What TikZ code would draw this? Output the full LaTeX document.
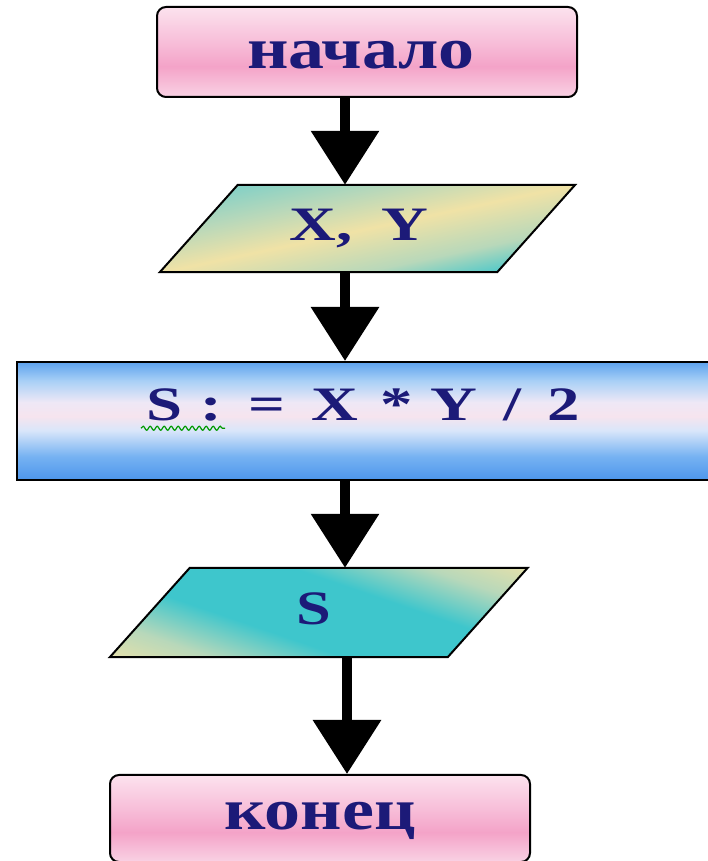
\documentclass[tikz,border=0pt]{standalone}
\usepackage{fontspec}
\setmainfont{Liberation Serif}
\usetikzlibrary{arrows.meta,backgrounds,decorations.pathmorphing}
\definecolor{txt}{HTML}{1C1A78}
\definecolor{pkA}{HTML}{F9D2E4}
\definecolor{pkB}{HTML}{F4A3C8}
\definecolor{pkC}{HTML}{F7BDD8}
\definecolor{pkD}{HTML}{FCE2EE}
\definecolor{blA}{HTML}{4D96EC}
\definecolor{blB}{HTML}{76B2F2}
\definecolor{blC}{HTML}{D9E6FA}
\definecolor{blD}{HTML}{F6E4EE}
\definecolor{blE}{HTML}{EEE8F6}
\definecolor{blF}{HTML}{A9D0F6}
\definecolor{blG}{HTML}{5DA2EE}
\definecolor{tlA}{HTML}{3EC6CC}
\definecolor{tlB}{HTML}{B8D8BA}
\definecolor{tlC}{HTML}{7ACFC8}
\definecolor{ylA}{HTML}{F0E2A6}
\pgfdeclareverticalshading{pinkshade}{100bp}{color(0bp)=(pkA); color(25bp)=(pkA); color(42bp)=(pkB); color(55bp)=(pkC); color(75bp)=(pkD); color(100bp)=(pkD)}
\pgfdeclareverticalshading{blueshade}{100bp}{color(0bp)=(blA); color(25bp)=(blA); color(35bp)=(blB); color(46bp)=(blC); color(52bp)=(blD); color(58bp)=(blE); color(67bp)=(blF); color(75bp)=(blG); color(100bp)=(blG)}
\pgfdeclareverticalshading{xyfill}{100bp}{color(0bp)=(tlA); color(25bp)=(tlA); color(36bp)=(tlB); color(50bp)=(ylA); color(62bp)=(tlB); color(75bp)=(tlC); color(100bp)=(tlC)}
\pgfdeclareverticalshading{sfill}{100bp}{color(0bp)=(ylA); color(25bp)=(ylA); color(34bp)=(tlB); color(43bp)=(tlA); color(57bp)=(tlA); color(66bp)=(tlB); color(75bp)=(ylA); color(100bp)=(ylA)}
\tikzset{
  termbox/.style={draw=black, line width=2pt, rounded corners=9pt, shade, shading=pinkshade, inner sep=0pt},
  procbox/.style={draw=black, line width=2pt, shade, shading=blueshade, inner sep=0pt},
  iobox/.style={inner sep=0pt},
  para/.style={draw=black, line width=2pt},
  lblbig/.style={text=txt, font=\bfseries\fontsize{58}{58}\selectfont},
  lblmid/.style={text=txt, font=\bfseries\fontsize{48}{48}\selectfont},
  conn/.style={line width=10pt, -{Triangle[width=66pt,length=54pt]}},
}
\begin{document}
\begin{tikzpicture}[x=1pt,y=1pt]
\useasboundingbox (0,0) rectangle (708,861);
\begin{scope}[on background layer]
  \fill[white] (0,0) rectangle (708,861);
\end{scope}
\coordinate (axis) at (345,0);
\coordinate (axisb) at (347,0);
% start
\node[termbox, minimum width=420pt, minimum height=90pt] (start) at (367,809) {};
\node[lblbig] (starttxt) at (361,806) {\scalebox{1.24}[1]{начало}};
% input
\node[iobox, minimum width=337pt, minimum height=87pt] (xy) at (367.5,632.5) {};
\node[lblmid] (xytxt) at (359,632) {\scalebox{1.35}[1]{X,\hspace{22pt}Y}};
\begin{scope}[on background layer]
  \begin{scope}
    \clip ([xshift=-39pt]xy.south west) -- ([xshift=-39pt]xy.south east)
      -- ([xshift=39pt]xy.north east) -- ([xshift=39pt]xy.north west) -- cycle;
    \begin{scope}[transform canvas={rotate around={12:(xy.center)}}]
      \shade[shading=xyfill] ([xshift=-270pt,yshift=-75pt]xy.center) rectangle ([xshift=270pt,yshift=75pt]xy.center);
    \end{scope}
  \end{scope}
  \path[para]
    ([xshift=-39pt]xy.south west) -- ([xshift=-39pt]xy.south east)
    -- ([xshift=39pt]xy.north east) -- ([xshift=39pt]xy.north west) -- cycle;
\end{scope}
% process
\node[procbox, minimum width=695pt, minimum height=118pt] (calc) at (364.5,440) {};
\node[lblmid] (calctxt) at (363,456.5) {\scalebox{1.35}[1]{S\hspace{13pt}:\hspace{20pt}=\hspace{19pt}X\hspace{17pt}*\hspace{13pt}Y\hspace{19pt}/\hspace{19pt}2}};
\draw[green!60!black, line width=1.2pt, decorate, decoration={snake, segment length=7pt, amplitude=2pt}]
  ([xshift=-2pt,yshift=-4pt]calctxt.south west) -- ++(84pt,0);
% output
\node[iobox, minimum width=337.5pt, minimum height=89pt] (out) at (318.75,248.5) {};
\node[lblmid] (outtxt) at (314,252) {\scalebox{1.3}[1]{S}};
\begin{scope}[on background layer]
  \begin{scope}
    \clip ([xshift=-40pt]out.south west) -- ([xshift=-40pt]out.south east)
      -- ([xshift=40pt]out.north east) -- ([xshift=40pt]out.north west) -- cycle;
    \begin{scope}[transform canvas={rotate around={-19:(out.center)}}]
      \shade[shading=sfill] ([xshift=-280pt,yshift=-120pt]out.center) rectangle ([xshift=280pt,yshift=120pt]out.center);
    \end{scope}
  \end{scope}
  \path[para]
    ([xshift=-40pt]out.south west) -- ([xshift=-40pt]out.south east)
    -- ([xshift=40pt]out.north east) -- ([xshift=40pt]out.north west) -- cycle;
\end{scope}
% end
\node[termbox, minimum width=420pt, minimum height=87pt] (end) at (320,42.5) {};
\node[lblbig] (endtxt) at (320,40) {\scalebox{1.24}[1]{конец}};
% connectors
\draw[conn] (start.south -| axis) -- (xy.north -| axis);
\draw[conn] (xy.south -| axis) -- (calc.north -| axis);
\draw[conn] (calc.south -| axis) -- (out.north -| axis);
\draw[conn] (out.south -| axisb) -- (end.north -| axisb);
\end{tikzpicture}
\end{document}
